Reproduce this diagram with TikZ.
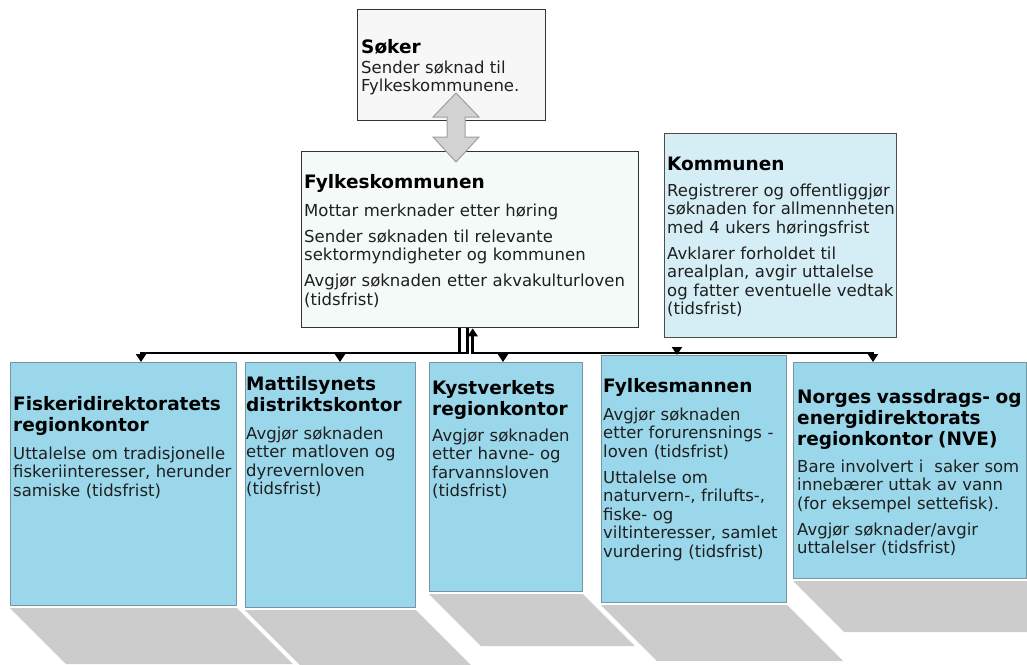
\documentclass[tikz,border=0pt]{standalone}
\usepackage{fontspec}
\setmainfont{DejaVu Sans}
\usetikzlibrary{arrows.meta,calc}

\definecolor{sokerfill}{HTML}{F7F7F7}
\definecolor{fylkefill}{HTML}{F3FAF8}
\definecolor{kommfill}{HTML}{D5EEF6}
\definecolor{etatfill}{HTML}{9AD7EA}
\definecolor{etatline}{HTML}{7396A2}
\definecolor{darkline}{HTML}{333333}

\tikzset{
  topbox/.style={draw=darkline, line width=1.4pt, inner sep=0pt, anchor=north west},
  etatbox/.style={draw=etatline, fill=etatfill, line width=1pt, inner sep=0pt, anchor=north west},
  txt/.style={anchor=base west, inner sep=0pt, text width=340pt, align=left,
    font=\fontsize{16.5}{18.5}\selectfont, text=black!88},
  conn/.style={line width=2.5pt},
  refl/.style={fill=gray!40},
  dblarrow/.style={fill=gray!35, draw=gray!75, line width=1pt}
}

% title line(s) of a box, then the gap before the body text
\newcommand{\hd}[2][9.5pt]{{\fontsize{18.5}{21}\selectfont\bfseries\color{black}#2\par}\vspace{#1}}
\newcommand{\gap}{\par\vspace{7.5pt}}
% grey mirror image under a box
\newcommand{\mirror}[2]{\fill[refl] ($(#1.south west)+(0,-2)$) -- ++(#2,-#2)
  -- ($(#1.south east)+(#2,-#2-2)$) -- ($(#1.south east)+(0,-2)$) -- cycle;}

\begin{document}
\begin{tikzpicture}[x=1pt, y=1pt, >={Triangle[width=10pt,length=8pt]}]
  \useasboundingbox (0,0) rectangle (1027,-664);
  \clip (0,0) rectangle (1027,-664);

  % upper boxes
  \node[topbox, fill=sokerfill, minimum width=188, minimum height=111] (soker) at (357,-9) {};
  \node[topbox, fill=fylkefill, minimum width=337, minimum height=176] (fylke) at (301,-151) {};
  \node[topbox, draw=black!70, fill=kommfill, minimum width=232, minimum height=204] (komm) at (664,-133) {};

  % the five sector authorities
  \node[etatbox, minimum width=226, minimum height=243] (fisk) at (10,-362) {};
  \node[etatbox, minimum width=170, minimum height=245] (matt) at (245,-362) {};
  \node[etatbox, minimum width=153, minimum height=229] (kyst) at (429,-362) {};
  \node[etatbox, minimum width=185, minimum height=247] (fmann) at (601,-355) {};
  \node[etatbox, minimum width=233, minimum height=216] (nve) at (793,-362) {};

  \mirror{fisk}{56}
  \mirror{matt}{55}
  \mirror{kyst}{52}
  \mirror{fmann}{56}
  \mirror{nve}{51}

  % texts
  \node[txt] (sokerT) at (361,-53) {\hd[1.5pt]{Søker}Sender søknad til\\Fylkeskommunene.};
  \node[txt] (fylkeT) at (304,-188) {\hd{Fylkeskommunen}Mottar merknader etter høring\gap
    Sender søknaden til relevante\\sektormyndigheter og kommunen\gap
    Avgjør søknaden etter akvakulturloven\\(tidsfrist)};
  \node[txt] (kommT) at (667,-170) {\hd[7.5pt]{Kommunen}Registrerer og offentliggjør\\søknaden for allmennheten\\med 4 ukers høringsfrist\gap
    Avklarer forholdet til\\arealplan, avgir uttalelse\\og fatter eventuelle vedtak\\(tidsfrist)};
  \node[txt] (fiskT) at (13,-410) {\hd{Fiskeridirektoratets\\regionkontor}Uttalelse om tradisjonelle\\fiskeriinteresser, herunder\\samiske (tidsfrist)};
  \node[txt] (mattT) at (246,-390) {\hd{Mattilsynets\\distriktskontor}Avgjør søknaden\\etter matloven og\\dyrevernloven\\(tidsfrist)};
  \node[txt] (kystT) at (432,-394) {\hd[7.5pt]{Kystverkets\\regionkontor}Avgjør søknaden\\etter havne- og\\farvannsloven\\(tidsfrist)};
  \node[txt] (fmannT) at (603,-392) {\hd{Fylkesmannen}Avgjør søknaden\\etter forurensnings -\\loven (tidsfrist)\gap
    Uttalelse om\\naturvern-, frilufts-,\\fiske- og\\viltinteresser, samlet\\vurdering (tidsfrist)};
  \node[txt] (nveT) at (797,-403) {\hd[8.5pt]{Norges vassdrags- og\\energidirektorats\\regionkontor (NVE)}Bare involvert i~ saker som\\innebærer uttak av vann\\(for eksempel settefisk).\gap
    Avgjør søknader/avgir\\uttalelser (tidsfrist)};

  % connectors
  \coordinate (b1) at (141,-353);
  \coordinate (b2) at (340,-353);
  \coordinate (b3) at (503,-353);
  \coordinate (b4) at (677,-353);
  \coordinate (b5) at (873,-353);
  \draw[conn, ->] ($(fylke.south)+(-10.5,0)$) |- (b1) -- (b1 |- fisk.north);
  \draw[conn, ->] ($(fylke.south)+(-2.5,0)$) |- (b2) -- (b2 |- matt.north);
  \draw[conn, <->] ($(fylke.south)+(2.5,0)$) |- (b5) -- (b5 |- nve.north);
  \draw[conn, ->] (b3) -- (b3 |- kyst.north);
  \draw[conn, ->] (b4) -- (b4 |- fmann.north);

  % double arrow between Søker and Fylkeskommunen
  \coordinate (dtop) at (456,-93);
  \coordinate (dbot) at (456,-162);
  \filldraw[dblarrow] (dtop) -- ++(23,-24) -- ++(-14,0) -- ++(0,-20) -- ++(14,0) -- (dbot)
    -- ++(-23,25) -- ++(14,0) -- ++(0,20) -- ++(-14,0) -- cycle;
\end{tikzpicture}
\end{document}
